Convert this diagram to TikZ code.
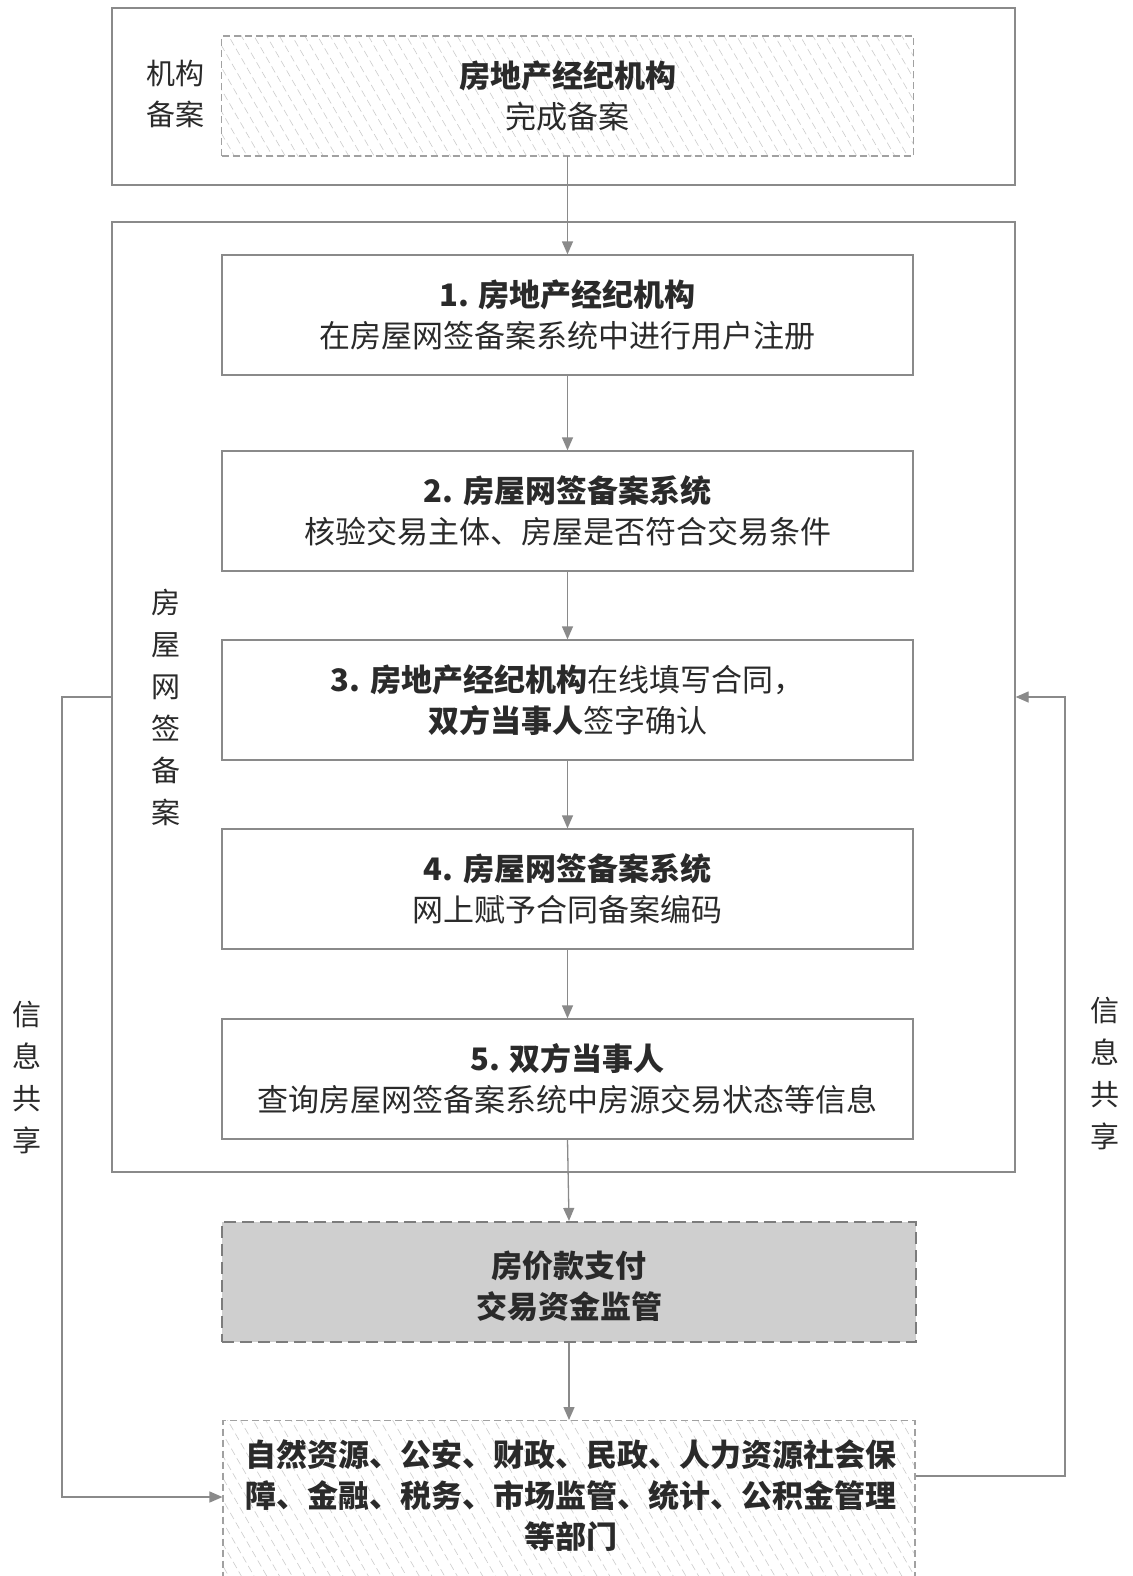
\documentclass[tikz,border=0pt]{standalone}
\usepackage{fontspec}
\setmainfont{Noto Sans CJK SC}
\usetikzlibrary{patterns.meta,arrows.meta}
\definecolor{ln}{HTML}{8A8A8A}
\definecolor{tx}{HTML}{2A2A2A}
\begin{document}
\begin{tikzpicture}[x=1pt,y=-1pt,
  every node/.style={text=tx,font=\fontsize{31}{41}\selectfont,inner sep=0pt},
  stepbox/.style={draw=ln,line width=1.3pt,minimum width=691pt,minimum height=120pt,align=center},
  hatchbox/.style={draw=ln!80,line width=1.1pt,dashed,dash pattern=on 7pt off 4pt,
     pattern={Lines[angle=-60,distance=11pt,line width=0.6pt]},pattern color=gray!40,
     minimum width=692pt,align=center},
  paybox/.style={draw=ln!90!black,line width=2.2pt,dash pattern=on 12pt off 6pt,fill=gray!38,
     minimum width=694pt,minimum height=120pt,align=center},
  frame/.style={draw=ln,line width=1.3pt},
  arr/.style={draw=ln,line width=1.3pt,-{Triangle[length=13pt,width=11pt]}},
  side/.style={font=\fontsize{29}{42}\selectfont,align=center}]
\useasboundingbox (0,0) rectangle (1132,1576);
\clip (0,0) rectangle (1132,1576);
\fill[white] (0,0) rectangle (1132,1576);

% top frame
\draw[frame] (112,8) rectangle (1015,185);
\node[hatchbox,minimum height=120pt] (inst) at (567.5,96) {\textbf{房地产经纪机构}\\完成备案};
\node[side,font=\fontsize{29}{41}\selectfont] (lab1) at (175,94) {机构\\备案};

% big frame
\node[frame,minimum width=903pt,minimum height=950pt] (net) at (563.5,697) {};
\node[side] (lab2) at (166,707) {房\\屋\\网\\签\\备\\案};

\node[stepbox] (s1) at (567.5,315) {\textbf{1. 房地产经纪机构}\\在房屋网签备案系统中进行用户注册};
\node[stepbox] (s2) at (567.5,511) {\textbf{2. 房屋网签备案系统}\\核验交易主体、房屋是否符合交易条件};
\node[stepbox] (s3) at (567.5,700) {\textbf{3. 房地产经纪机构}在线填写合同，\\\textbf{双方当事人}签字确认};
\node[stepbox] (s4) at (567.5,889) {\textbf{4. 房屋网签备案系统}\\网上赋予合同备案编码};
\node[stepbox] (s5) at (567.5,1079) {\textbf{5. 双方当事人}\\查询房屋网签备案系统中房源交易状态等信息};

\node[paybox] (pay) at (569,1282) {};
\node[align=center] (paytext) at (569,1286) {\textbf{房价款支付}\\\textbf{交易资金监管}};
\node[hatchbox,minimum height=170pt,anchor=north] (dept) at (569,1420) {};
\node[align=center] (depttext) at (571,1496) {\textbf{自然资源、公安、财政、民政、人力资源社会保}\\\textbf{障、金融、税务、市场监管、统计、公积金管理}\\\textbf{等部门}};

\node[side] (lab3) at (27,1077) {信\\息\\共\\享};
\node[side] (lab4) at (1105,1073) {信\\息\\共\\享};

% arrows
\draw[arr] (inst.south) -- (s1.north);
\draw[arr] (s1.south) -- (s2.north);
\draw[arr] (s2.south) -- (s3.north);
\draw[arr] (s3.south) -- (s4.north);
\draw[arr] (s4.south) -- (s5.north);
\draw[arr] (s5.south) -- (pay.north);
\draw[arr] (pay.south) -- (dept.north);
\draw[arr] (net.west) -- (62,697) -- (62,1497) -- (dept.west |- 62,1497);
\draw[arr] (dept.east |- 0,1476) -- (1065,1476) -- (1065,697) -- (net.east);
\end{tikzpicture}
\end{document}
